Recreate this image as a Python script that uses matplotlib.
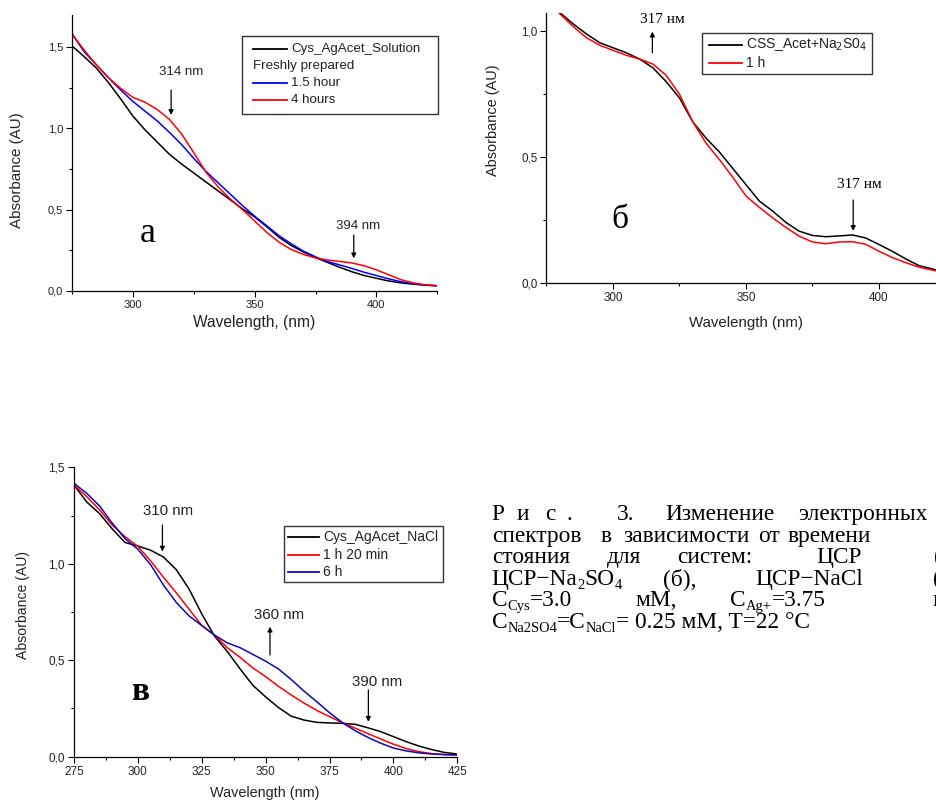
import numpy as np
import matplotlib.pyplot as plt
from matplotlib.patches import Rectangle
from matplotlib.lines import Line2D
from matplotlib.ticker import MultipleLocator, FuncFormatter

plt.rcParams['font.family'] = ['Liberation Sans', 'DejaVu Sans']

# ---- data: absorbance spectra, 275-425 nm every 5 nm ----
wl = list(range(275, 430, 5))

# (a) Cys + AgAcet solution
a_fresh = [1.506, 1.44, 1.37, 1.28, 1.18, 1.075, 0.99, 0.915, 0.84, 0.78, 0.725,
           0.67, 0.615, 0.56, 0.505, 0.455, 0.395, 0.33, 0.28, 0.24, 0.205, 0.175,
           0.145, 0.118, 0.095, 0.078, 0.062, 0.05, 0.042, 0.036, 0.032]
a_15h = [1.58, 1.47, 1.39, 1.31, 1.235, 1.165, 1.105, 1.045, 0.975, 0.90, 0.815,
         0.735, 0.665, 0.595, 0.525, 0.46, 0.40, 0.34, 0.29, 0.245, 0.21, 0.18,
         0.16, 0.138, 0.115, 0.095, 0.075, 0.057, 0.045, 0.037, 0.032]
a_4h = [1.58, 1.48, 1.39, 1.31, 1.245, 1.19, 1.16, 1.115, 1.055, 0.965, 0.85,
        0.73, 0.64, 0.565, 0.50, 0.43, 0.36, 0.30, 0.255, 0.225, 0.203, 0.19,
        0.182, 0.172, 0.155, 0.13, 0.10, 0.07, 0.05, 0.038, 0.032]

# (б) CSS_Acet + Na2SO4
b_fresh = [1.12, 1.075, 1.03, 0.99, 0.955, 0.935, 0.915, 0.89, 0.855, 0.80, 0.735,
           0.64, 0.575, 0.52, 0.455, 0.39, 0.325, 0.285, 0.24, 0.205, 0.188, 0.183,
           0.186, 0.19, 0.178, 0.152, 0.125, 0.095, 0.068, 0.055, 0.04]
b_1h = [1.12, 1.07, 1.02, 0.975, 0.945, 0.925, 0.905, 0.89, 0.87, 0.825, 0.75,
        0.64, 0.555, 0.49, 0.42, 0.345, 0.30, 0.258, 0.22, 0.185, 0.162, 0.155,
        0.162, 0.163, 0.153, 0.125, 0.10, 0.08, 0.062, 0.05, 0.04]

# (в) Cys + AgAcet + NaCl
c_fresh = [1.408, 1.32, 1.26, 1.18, 1.11, 1.092, 1.07, 1.035, 0.97, 0.87, 0.74,
           0.625, 0.545, 0.455, 0.37, 0.31, 0.255, 0.21, 0.19, 0.178, 0.175, 0.173,
           0.168, 0.15, 0.13, 0.104, 0.078, 0.055, 0.037, 0.022, 0.014]
c_80min = [1.408, 1.348, 1.28, 1.20, 1.14, 1.09, 1.015, 0.93, 0.85, 0.765, 0.68,
           0.63, 0.565, 0.515, 0.46, 0.415, 0.365, 0.32, 0.278, 0.24, 0.208, 0.176,
           0.148, 0.12, 0.092, 0.065, 0.042, 0.026, 0.016, 0.011, 0.009]
c_6h = [1.417, 1.365, 1.30, 1.21, 1.13, 1.075, 0.995, 0.89, 0.80, 0.73, 0.68,
        0.63, 0.59, 0.565, 0.53, 0.495, 0.455, 0.40, 0.34, 0.285, 0.228, 0.177,
        0.135, 0.10, 0.07, 0.045, 0.03, 0.02, 0.014, 0.011, 0.009]

BLACK, RED, BLUE, NAVY = 'black', '#ff0000', '#0000ff', '#0a0ab4'
TXT = '#222222'

W, H = 937, 801
fig = plt.figure(figsize=(W / 100, H / 100), dpi=100)
renderer = fig.canvas.get_renderer()


def fx(x):
    return x / W


def fy(y):
    return 1 - y / H


comma = FuncFormatter(lambda v, p: f"{v:.1f}".replace('.', ','))


def setup(ax, ylim, xmaj, tick_fs):
    ax.set_xlim(275, 425)
    ax.set_ylim(*ylim)
    ax.spines[['top', 'right']].set_visible(False)
    for s in ('left', 'bottom'):
        ax.spines[s].set_linewidth(0.9)
    ax.xaxis.set_major_locator(MultipleLocator(xmaj))
    ax.xaxis.set_minor_locator(MultipleLocator(xmaj / 2))
    ax.yaxis.set_major_locator(MultipleLocator(0.5))
    ax.yaxis.set_minor_locator(MultipleLocator(0.25))
    ax.yaxis.set_major_formatter(comma)
    ax.tick_params(which='major', direction='out', length=4, width=0.8,
                   labelsize=tick_fs, labelcolor=TXT, pad=2.5)
    ax.tick_params(which='minor', direction='out', length=2.5, width=0.8)


def labels(ax, xl, xpos, ypos, fs):
    ax.set_xlabel(xl, fontsize=fs, color=TXT)
    ax.set_ylabel('Absorbance (AU)', fontsize=fs * 0.97, color=TXT)
    ax.xaxis.set_label_coords(fx(xpos[0]), fy(xpos[1]), transform=fig.transFigure)
    ax.yaxis.set_label_coords(fx(ypos[0]), fy(ypos[1]), transform=fig.transFigure)
    ax.xaxis.label.set_verticalalignment('center')
    ax.yaxis.label.set_verticalalignment('center')


def arrow(ax, x, tail, tip):
    ax.annotate('', xy=(x, tip), xytext=(x, tail),
                arrowprops=dict(arrowstyle='-|>', color='black', lw=0.9,
                                mutation_scale=7, shrinkA=0, shrinkB=0))


def legend_box(box, x_line, x_text, rows, fs, **kw):
    x0, y0, x1, y1 = box
    fig.add_artist(Rectangle((fx(x0), fy(y1)), fx(x1 - x0), (y1 - y0) / H,
                             transform=fig.transFigure, fill=False,
                             ec='#333333', lw=1.0))
    for y, color, text in rows:
        if color is None:
            fig.text(fx(x_line[0]), fy(y), text, fontsize=fs, color=TXT,
                     va='center', **kw)
            continue
        fig.add_artist(Line2D([fx(x_line[0]), fx(x_line[1])], [fy(y), fy(y)],
                              transform=fig.transFigure, color=color, lw=1.3))
        fig.text(fx(x_text), fy(y), text, fontsize=fs, color=TXT,
                 va='center', **kw)


# ---- panel a ----
ax1 = fig.add_axes([fx(72), fy(291), (437.3 - 72) / W, (291 - 15) / H])
ax1.plot(wl, a_fresh, color=BLACK, lw=1.1)
ax1.plot(wl, a_15h, color=BLUE, lw=1.1)
ax1.plot(wl, a_4h, color=RED, lw=1.1)
setup(ax1, (0, 1.696), 50, 8)
labels(ax1, 'Wavelength, (nm)', (253.8, 322.7), (17.5, 170.5), 11.2)
ax1.text(319.7, 1.344, '314 nm', fontsize=9.5, color=TXT, ha='center', va='center')
arrow(ax1, 315.7, 1.235, 1.082)
ax1.text(392.5, 0.401, '394 nm', fontsize=9.5, color=TXT, ha='center', va='center')
arrow(ax1, 390.7, 0.344, 0.201)
ax1.text(306.1, 0.355, 'a', fontsize=26, family='Liberation Serif',
         ha='center', va='center')
legend_box((242, 36, 437.7, 113.7), (253.3, 286.7), 291,
           [(49.3, BLACK, 'Cys_AgAcet_Solution'),
            (66.3, None, 'Freshly prepared'),
            (83.3, BLUE, '1.5 hour'),
            (100.3, RED, '4 hours')], 9.6)

# ---- panel б ----
ax2 = fig.add_axes([fx(546.5), fy(282.7), 399 / W, (282.7 - 13.3) / H])
ax2.plot(wl, b_fresh, color=BLACK, lw=1.1)
ax2.plot(wl, b_1h, color=RED, lw=1.1)
setup(ax2, (0, 1.072), 50, 8.4)
labels(ax2, 'Wavelength (nm)', (745.8, 322.7), (493, 120), 10.8)
ax2.text(318.5, 1.048, '317 нм', fontsize=11, family='Liberation Serif',
         ha='center', va='center')
arrow(ax2, 314.8, 0.915, 0.999)
ax2.text(392.5, 0.389, '317 нм', fontsize=11, family='Liberation Serif',
         ha='center', va='center')
arrow(ax2, 390.3, 0.329, 0.206)
ax2.text(302.6, 0.25, 'б', fontsize=24, family='Liberation Serif',
         ha='center', va='center')
legend_box((702.3, 33.3, 872.3, 74), (709.3, 741.7), 746,
           [(45, BLACK, 'CSS_Acet+Na$_2$S0$_4$'),
            (63.3, RED, '1 h')], 10, math_fontfamily='dejavusans')

# ---- panel в ----
ax3 = fig.add_axes([fx(74), fy(756.7), 383.3 / W, (756.7 - 467.3) / H])
ax3.plot(wl, c_fresh, color=BLACK, lw=1.1)
ax3.plot(wl, c_80min, color=RED, lw=1.1)
ax3.plot(wl, c_6h, color=NAVY, lw=1.1)
setup(ax3, (0, 1.5), 25, 8.5)
labels(ax3, 'Wavelength (nm)', (265, 793), (22.6, 605.3), 10.4)
ax3.text(311.9, 1.274, '310 nm', fontsize=10.8, color=TXT, ha='center', va='center')
arrow(ax3, 309.6, 1.201, 1.063)
ax3.text(355.1, 0.735, '360 nm', fontsize=10.8, color=TXT, ha='center', va='center')
arrow(ax3, 351.7, 0.527, 0.674)
ax3.text(393.5, 0.389, '390 nm', fontsize=10.8, color=TXT, ha='center', va='center')
arrow(ax3, 390.2, 0.346, 0.181)
ax3.text(300.8, 0.337, 'в', fontsize=24, family='Liberation Serif',
         weight='bold', ha='center', va='center')
legend_box((283.7, 526, 442.7, 582.3), (288.3, 319.3), 323.3,
           [(537.3, BLACK, 'Cys_AgAcet_NaCl'),
            (555, RED, '1 h 20 min'),
            (572.3, NAVY, '6 h')], 10)

# ---- caption (justified block, runs off the right edge) ----
# each word is a list of (text, is_subscript) pieces
caption = [
    (520, [(491.7, 'Р'), (516.7, 'и'), (545, 'с'), (566.7, '.'), (616.7, '3.'),
           (665, 'Изменение'), (798.3, 'электронных')]),
    (541.7, [(491.7, 'спектров'), (600.7, 'в'), (623.3, 'зависимости'),
             (758, 'от'), (788, 'времени')]),
    (563.3, [(491.7, 'стояния'), (606.7, 'для'), (676.7, 'систем:'),
             (816.7, 'ЦСР'), (934, '(а),')]),
    (585, [(491.7, [('ЦСР−Na', 0), ('2', 1), ('SO', 0), ('4', 1)]),
           (663.3, '(б),'), (755, 'ЦСР−NaCl'), (933, '(в),')]),
    (606, [(491.7, [('C', 0), ('Cys', 1), ('=3.0', 0)]), (635, 'мМ,'),
           (730, [('C', 0), ('Ag+', 1), ('=3.75', 0)]), (932, 'мМ,')]),
    (627.7, [(491.7, [('C', 0), ('Na2SO4', 1), ('=C', 0), ('NaCl', 1),
                      ('= 0.25 мМ, T=22 °C', 0)])]),
]
CAP_FS = 16.8
for y, words in caption:
    for x, w in words:
        pieces = [(w, 0)] if isinstance(w, str) else w
        for text, sub in pieces:
            t = fig.text(fx(x), fy(y + (4 if sub else 0)), text,
                         fontsize=CAP_FS * (0.62 if sub else 1),
                         family='Liberation Serif', va='baseline', ha='left')
            x += t.get_window_extent(renderer).width

fig.savefig('out.png', dpi=100)
